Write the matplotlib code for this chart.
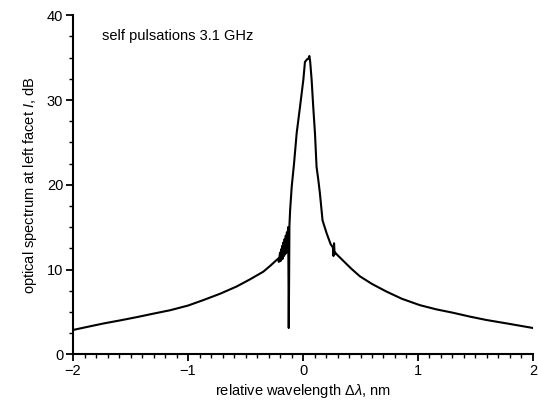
import numpy as np
import matplotlib
matplotlib.use('Agg')
import matplotlib.pyplot as plt
from matplotlib.ticker import MultipleLocator

plt.rcParams['font.family'] = ['Liberation Sans', 'DejaVu Sans']
plt.rcParams['mathtext.fontset'] = 'custom'
plt.rcParams['mathtext.rm'] = 'Liberation Sans'
plt.rcParams['mathtext.it'] = 'Liberation Sans:italic'

# spectrum (relative wavelength nm, dB)
wl = [-2.0, -1.87, -1.73, -1.59, -1.44, -1.3, -1.155, -1.0, -0.866, -0.72,
      -0.577, -0.46, -0.345, -0.28, -0.24, -0.215, -0.21, -0.2, -0.195, -0.19,
      -0.185, -0.18, -0.175, -0.17, -0.165, -0.16, -0.155, -0.15, -0.145,
      -0.14, -0.135, -0.13, -0.127, -0.124, -0.121, -0.118, -0.112, -0.098,
      -0.078, -0.055, -0.026, 0.003, 0.017, 0.035, 0.048, 0.055, 0.062, 0.075,
      0.089, 0.104, 0.118, 0.133, 0.147, 0.17, 0.205, 0.24, 0.26, 0.265,
      0.27, 0.275, 0.28, 0.3, 0.36, 0.42, 0.495, 0.6, 0.726, 0.86, 1.016,
      1.16, 1.305, 1.45, 1.594, 1.79, 1.98, 2.0]
spec = [2.87, 3.25, 3.65, 4.0, 4.4, 4.8, 5.2, 5.75, 6.4, 7.15,
        8.0, 8.85, 9.75, 10.5, 11.0, 11.3, 10.9, 12.0, 11.0, 12.4,
        11.2, 12.8, 11.3, 13.2, 11.6, 13.6, 11.8, 14.0, 12.0,
        14.4, 12.4, 15.0, 11.0, 3.1, 8.5, 15.2, 17.0, 19.8,
        22.5, 26.1, 29.2, 32.4, 34.5, 34.8, 34.9, 35.2, 34.6, 32.4,
        29.2, 26.1, 22.1, 20.6, 19.0, 15.8, 14.3, 13.0, 12.6, 11.6,
        13.1, 11.8, 12.0, 11.7, 10.9, 10.1, 9.2, 8.3, 7.4, 6.55, 5.8,
        5.3, 4.9, 4.45, 4.05, 3.6, 3.15, 3.1]

fig = plt.figure(figsize=(5.38, 4.05), dpi=100)
ax = fig.add_axes([0.1357, 0.1252, 0.855, 0.837])
ax.plot(wl, spec, color='black', lw=1.5)

ax.set_xlim(-2, 2)
ax.set_ylim(0, 40)
ax.xaxis.set_major_locator(MultipleLocator(1))
ax.xaxis.set_minor_locator(MultipleLocator(0.1))
ax.yaxis.set_major_locator(MultipleLocator(10))
ax.yaxis.set_minor_locator(MultipleLocator(2.5))
ax.tick_params(which='major', direction='out', length=5, width=1.3, labelsize=10.5, pad=2)
ax.tick_params(which='minor', direction='out', length=3, width=1.0)
ax.spines['top'].set_visible(False)
ax.spines['right'].set_visible(False)
for s in ['left', 'bottom']:
    ax.spines[s].set_linewidth(1.5)

ax.set_xlabel(r'relative wavelength $\Delta\mathit{\lambda}$, nm', fontsize=10.5, labelpad=3)
ax.set_ylabel(r'optical spectrum at left facet $\mathit{I}$, dB', fontsize=10.5, labelpad=6)
ax.text(-1.75, 37.6, 'self pulsations 3.1 GHz', fontsize=10.5, ha='left', va='center')

fig.savefig('out.png', dpi=100)
